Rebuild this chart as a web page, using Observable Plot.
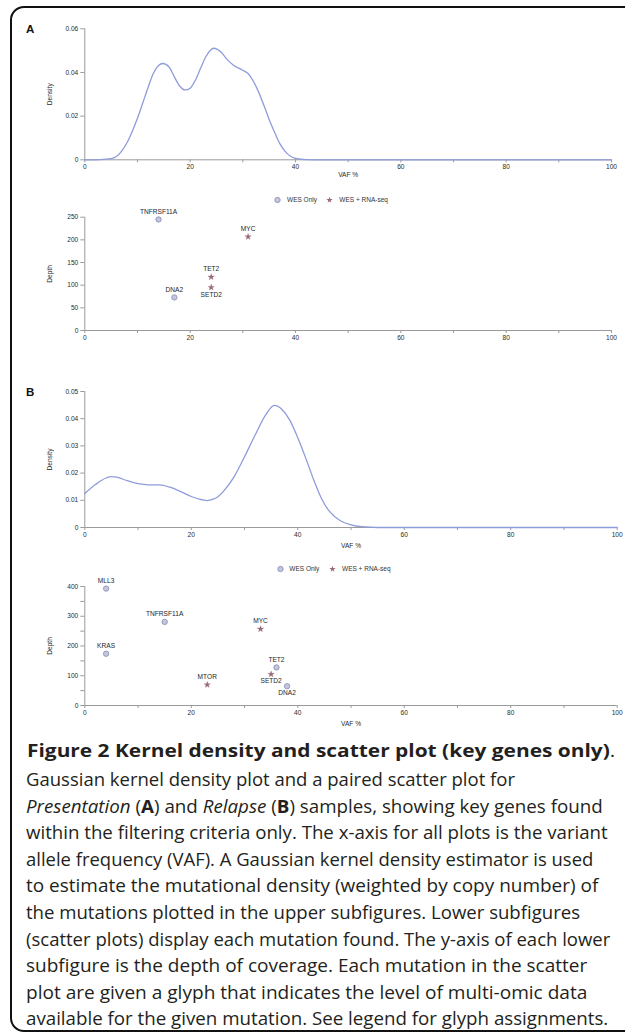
<!DOCTYPE html>
<html><head><meta charset="utf-8">
<script src="https://cdn.jsdelivr.net/npm/d3@7"></script>
<script src="https://cdn.jsdelivr.net/npm/@observablehq/plot@0.6"></script>
<style>
html,body{margin:0;padding:0;background:#fff;}
body{width:625px;height:1034px;position:relative;overflow:hidden;}
#frame{position:absolute;left:10px;top:6px;width:660px;height:1026px;border:2px solid #111;border-radius:14px;box-sizing:border-box;}
.panel{position:absolute;font:bold 11.5px "Liberation Sans",Arial,sans-serif;line-height:11px;color:#111;}
.plot{position:absolute;left:0;}
.leg{position:absolute;font:6.5px "Liberation Sans",Arial,sans-serif;color:#333;white-space:nowrap;line-height:8px;}
.cap{position:absolute;left:26px;white-space:nowrap;font-family:"Open Sans",sans-serif;font-size:17.5px;line-height:26.6px;color:#231f20;transform-origin:0 0;}
</style></head>
<body>
<div id="frame"></div>
<div class="panel" style="left:26px;top:24.3px">A</div>
<div class="panel" style="left:26px;top:387.3px">B</div>
<script>
// ---------------- data ----------------
const vafTicks = [0,10,20,30,40,50,60,70,80,90,100];

// Panel A (Presentation) kernel density
const densAx = [0,3,5,6,7,8,9,10,11,12,13,14,14.8,16,17,18,19.1,20,21,22,23,24.5,26,27,28.3,30,31,32,33,34,35,36,37,38,39,40,42,45,100];
const densAy = [0,0.0001,0.0005,0.0015,0.004,0.0078,0.013,0.019,0.026,0.033,0.0395,0.0432,0.0441,0.0425,0.038,0.0338,0.032,0.0328,0.0365,0.042,0.0473,0.0511,0.049,0.046,0.0432,0.041,0.0395,0.036,0.031,0.025,0.0185,0.0128,0.0075,0.004,0.0017,0.0006,0.0001,0,0];
const densATicks = [0,0.02,0.04,0.06];

// Panel A scatter
const genesA = ["TNFRSF11A","DNA2","MYC","TET2","SETD2"];
const vafA   = [14,17,31,24,24];
const depthA = [245,73,207,118,95];
const glyphA = ["WES Only","WES Only","WES + RNA-seq","WES + RNA-seq","WES + RNA-seq"];
const depthATicks = [0,50,100,150,200,250];

// Panel B (Relapse) kernel density
const densBx = [0,2,4,5,6,8,10,12,14,16,18,20,22,23,24,25,26,28,30,32,34,35.6,37,38.5,40,41.5,43,44.5,46,48,50,52,55,100];
const densBy = [0.0125,0.0158,0.0182,0.0187,0.0185,0.0172,0.0161,0.0157,0.0157,0.0148,0.0132,0.0114,0.0102,0.0099,0.0103,0.0113,0.0132,0.0185,0.026,0.034,0.0415,0.0449,0.0435,0.0395,0.033,0.0255,0.0175,0.0105,0.0058,0.0025,0.001,0.0003,0,0];
const densBTicks = [0,0.01,0.02,0.03,0.04,0.05];

// Panel B scatter
const genesB = ["MLL3","TNFRSF11A","KRAS","MTOR","MYC","TET2","SETD2","DNA2"];
const vafB   = [4,15,4,23,33,36,35,38];
const depthB = [393,281,174,70,257,128,105,65];
const glyphB = ["WES Only","WES Only","WES Only","WES + RNA-seq","WES + RNA-seq","WES Only","WES + RNA-seq","WES Only"];
const depthBTicks = [0,50,100,150,200,250,300,350,400];

const glyphTypes = ["WES Only","WES + RNA-seq"];

// ---------------- style ----------------
const axisGray = "#9a9a9a";
const tickText = "#2a2a2a";
const curveColor = "#8f9cdb";
const circleFill = "#c3c6df", circleStroke = "#858bb3", starFill = "#976673";
const font = "Liberation Sans, Arial, sans-serif";
const fs = 6.6;
const labelBelowA = new Set(["SETD2"]);
const labelBelowB = new Set(["SETD2","DNA2"]);

function axes(yTicks, yFormat){
  return [
    Plot.ruleY([0], {stroke: axisGray}),
    Plot.ruleX([0], {stroke: axisGray}),
    Plot.axisX({ticks: vafTicks, tickFormat: d => d % 20 === 0 ? String(d) : "", tickSize: 3, tickPadding: 2, fontSize: fs, fontFamily: font, stroke: axisGray, fill: tickText, label: null}),
    Plot.axisY({ticks: yTicks, tickFormat: yFormat, tickSize: 4, tickPadding: 2.5, fontSize: fs, fontFamily: font, stroke: axisGray, fill: tickText, label: null})
  ];
}
function axisTitles(xLabel, xDy, yLabel){
  const m = [];
  if (xLabel) m.push(Plot.text([xLabel], {text: d => d, frameAnchor: "bottom", dy: xDy, lineAnchor: "middle", fontSize: fs, fontFamily: font, fill: tickText}));
  m.push(Plot.text([yLabel], {text: d => d, frameAnchor: "left", dx: -35.3, rotate: -90, textAnchor: "middle", lineAnchor: "middle", fontSize: fs, fontFamily: font, fill: tickText}));
  return m;
}
const densFmt = d => d === 0 ? "0" : d.toFixed(2);

function densityPlot(xs, ys, yTicks, L){
  const pts = xs.map((x,i) => ({vaf: x, density: ys[i]}));
  const p = Plot.plot({
    width: 625, height: L.height,
    marginLeft: 84.3, marginRight: 625 - L.xRight, marginTop: L.marginTop, marginBottom: L.height - L.frameBottom,
    x: {domain: [0,100]}, y: {domain: [0, yTicks[yTicks.length-1]]},
    style: {fontFamily: font, overflow: "visible", background: "transparent"},
    marks: [
      ...axes(yTicks, densFmt),
      Plot.line(pts, {x: "vaf", y: "density", stroke: curveColor, strokeWidth: 1.3, curve: "monotone-x"}),
      ...axisTitles("VAF %", L.xLabelDy, "Density")
    ]
  });
  p.classList.add("plot"); p.style.top = L.top + "px";
  document.body.appendChild(p);
}

function scatterPlot(genes, vafs, depths, glyphs, yTicks, yFmt, below, L){
  const rows = genes.map((g,i) => ({gene: g, vaf: vafs[i], depth: depths[i], glyph: glyphs[i]}));
  const p = Plot.plot({
    width: 625, height: L.height,
    marginLeft: 84.3, marginRight: 625 - L.xRight, marginTop: L.marginTop, marginBottom: L.height - L.frameBottom,
    x: {domain: [0,100]}, y: {domain: [0, yTicks[yTicks.length-1]]},
    style: {fontFamily: font, overflow: "visible", background: "transparent"},
    marks: [
      ...axes(yTicks, yFmt),
      Plot.dot(rows.filter(d => d.glyph === glyphTypes[0]), {x: "vaf", y: "depth", r: 2.7, symbol: "circle", fill: circleFill, stroke: circleStroke, strokeWidth: 0.8}),
      Plot.dot(rows.filter(d => d.glyph === glyphTypes[1]), {x: "vaf", y: "depth", r: 2.0, symbol: "star", fill: starFill, stroke: starFill, strokeWidth: 0.3}),
      Plot.text(rows.filter(d => !below.has(d.gene)), {x: "vaf", y: "depth", text: "gene", dy: -8, fontSize: fs, fontFamily: font, fill: "#1e1e1e"}),
      Plot.text(rows.filter(d => below.has(d.gene)), {x: "vaf", y: "depth", text: "gene", dy: 7, fontSize: fs, fontFamily: font, fill: "#1e1e1e"}),
      ...axisTitles(L.xLabel, L.xLabelDy, "Depth")
    ]
  });
  p.classList.add("plot"); p.style.top = L.top + "px";
  document.body.appendChild(p);
}

function legend(L){
  const mk = (left, html) => {
    const d = document.createElement("div");
    d.className = "leg"; d.style.left = left + "px"; d.style.top = (L.cy - 4) + "px";
    d.innerHTML = html; document.body.appendChild(d);
  };
  mk(L.circleX - 3.5, `<svg width="7" height="8" style="display:block"><circle cx="3.5" cy="4" r="2.7" fill="${circleFill}" stroke="${circleStroke}" stroke-width="0.8"/></svg>`);
  mk(L.circleX + 9.3, glyphTypes[0]);
  const star = d3.symbol(d3.symbolStar, 2.0*2.0*Math.PI)();
  mk(L.starX - 3.5, `<svg width="7" height="8" style="display:block"><path transform="translate(3.5,4)" d="${star}" fill="${starFill}"/></svg>`);
  mk(L.starX + 10, glyphTypes[1]);
}

// ---------------- layout ----------------
densityPlot(densAx, densAy, densATicks, {top: 0, height: 180, marginTop: 28.3, frameBottom: 159.3, xRight: 611, xLabelDy: 14.7});
legend({cy: 200, circleX: 277.7, starX: 329.3});
scatterPlot(genesA, vafA, depthA, glyphA, depthATicks, d => String(d), labelBelowA, {top: 200, height: 150, marginTop: 16.7, frameBottom: 130, xRight: 611, xLabel: null});
densityPlot(densBx, densBy, densBTicks, {top: 380, height: 167, marginTop: 11, frameBottom: 147, xRight: 616.7, xLabelDy: 18});
legend({cy: 569.3, circleX: 280, starX: 332});
scatterPlot(genesB, vafB, depthB, glyphB, depthBTicks, d => d % 100 === 0 ? String(d) : "", labelBelowB, {top: 575, height: 152, marginTop: 11, frameBottom: 130, xRight: 616.7, xLabel: "VAF %", xLabelDy: 18.3});

// ---------------- caption ----------------
const captionTitle = "<b>Figure 2 Kernel density and scatter plot (key genes only)</b>.";
const captionLines = [
  "Gaussian kernel density plot and a paired scatter plot for",
  "<i>Presentation</i> (<b>A</b>) and <i>Relapse</i> (<b>B</b>) samples, showing key genes found",
  "within the filtering criteria only. The x-axis for all plots is the variant",
  "allele frequency (VAF). A Gaussian kernel density estimator is used",
  "to estimate the mutational density (weighted by copy number) of",
  "the mutations plotted in the upper subfigures. Lower subfigures",
  "(scatter plots) display each mutation found. The y-axis of each lower",
  "subfigure is the depth of coverage. Each mutation in the scatter",
  "plot are given a glyph that indicates the level of multi-omic data",
  "available for the given mutation. See legend for glyph assignments."
];
const lineEnds = [515,602.7,607.7,593.3,598.3,580,610.3,587.3,587.3,608.3];
function capLine(html, top, left, end){
  const d = document.createElement("div");
  d.className = "cap"; d.style.top = top + "px"; d.style.left = left + "px";
  d.innerHTML = html; document.body.appendChild(d);
  const w = d.getBoundingClientRect().width;
  d.style.transform = `scaleX(${(end - left) / w})`;
}
capLine(captionTitle, 736.6, 26.7, 615);
captionLines.forEach((l, i) => capLine(l, 765.9 + i * 26.6, 26, lineEnds[i]));
</script>
</body></html>
